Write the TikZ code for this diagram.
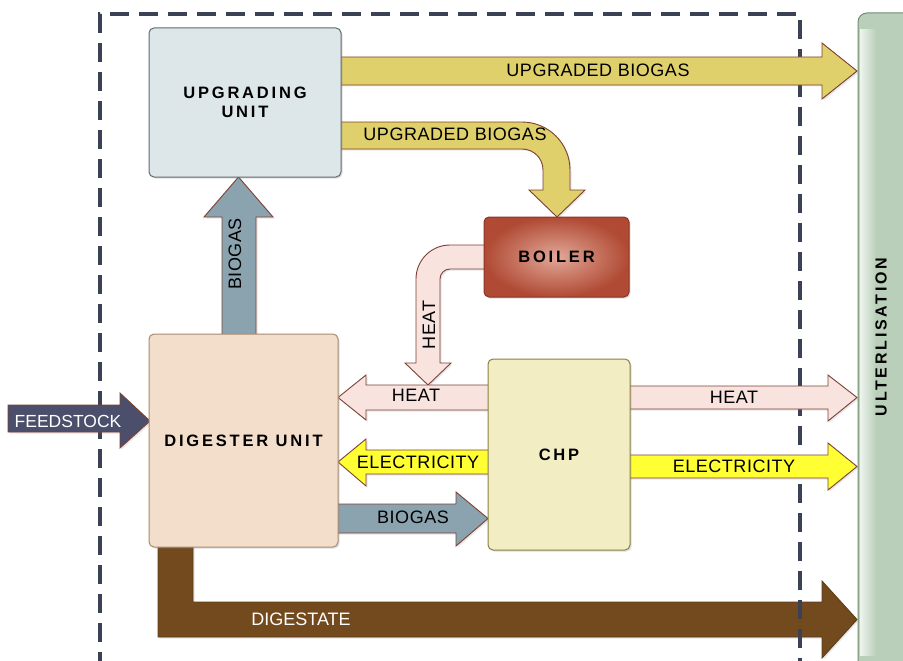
\documentclass[tikz,border=0pt]{standalone}
\usepackage{fontspec}
\setmainfont{Liberation Sans}
\newfontfamily\boxfont[LetterSpace=17]{Liberation Sans}
\newfontfamily\lblfont[LetterSpace=3]{Liberation Sans}
\usetikzlibrary{shadows}
\definecolor{dashc}{HTML}{3B4256}
\definecolor{upgfill}{HTML}{DDE6E8}
\definecolor{upgdraw}{HTML}{5F6B70}
\definecolor{boilin}{HTML}{E2A898}
\definecolor{boilout}{HTML}{B04A34}
\definecolor{boildraw}{HTML}{8A3525}
\definecolor{digfill}{HTML}{F3DECB}
\definecolor{digdraw}{HTML}{A88A6E}
\definecolor{chpfill}{HTML}{F3EDC3}
\definecolor{chpdraw}{HTML}{8C7F45}
\definecolor{utilL}{HTML}{EEF4EE}
\definecolor{utilR}{HTML}{B9CFB9}
\definecolor{utildraw}{HTML}{6E8F6E}
\definecolor{gasyel}{HTML}{DFD06B}
\definecolor{heatfill}{HTML}{F8E3DF}
\definecolor{elecfill}{HTML}{FFFF33}
\definecolor{biofill}{HTML}{8AA3AF}
\definecolor{feedfill}{HTML}{4B4F6B}
\definecolor{digest}{HTML}{734A1E}
\definecolor{arrowedge}{HTML}{7E4032}
\tikzset{
  box/.style={draw, line width=1pt, rounded corners=5pt,
    drop shadow={opacity=0.25,shadow xshift=1.5pt,shadow yshift=-1.5pt},
    inner sep=0pt, align=center,
    font=\boxfont\bfseries\fontsize{16.5}{19}\selectfont},
  blk/.style={draw=arrowedge, line width=0.9pt,
    drop shadow={opacity=0.2,shadow xshift=1.5pt,shadow yshift=-1.5pt}},
  lbl/.style={font=\lblfont\fontsize{18}{20}\selectfont, inner sep=0pt},
  wlbl/.style={font=\fontsize{17.5}{20}\selectfont, inner sep=0pt, text=white},
}
\begin{document}
\begin{tikzpicture}[x=1pt,y=-1pt]
\useasboundingbox (0,0) rectangle (903,661);
\clip (0,0) rectangle (903,661);

% digestate (behind dashed frame)
\path[blk, fill=digest, draw=digest!80!black] (158,540) -- (158,637) -- (822,637) -- (822,658) -- (857,619.5) -- (822,581) -- (822,602) -- (193,602) -- (193,540) -- cycle;
\node[wlbl, font=\fontsize{18}{20}\selectfont] (digl) at (301,619) {DIGESTATE};

% dashed system boundary
\draw[dashc, line width=3.2pt, dash pattern=on 19pt off 10pt] (100,700) -- (100,14) -- (800,14) -- (800,700);

% utilisation bar
\draw[draw=utildraw, line width=1pt, rounded corners=9pt, fill=utilR] (858,13) rectangle (930,675);
\fill[left color=utilL, right color=utilR, shading angle=90] (860,30) rectangle (876,655);
\node[rotate=90, font=\boxfont\bfseries\fontsize{16}{19}\selectfont, inner sep=0pt] (util) at (881,337) {ULTERLISATION};

% upgraded biogas to utilisation
\path[blk, fill=gasyel] (330,57) -- (822,57) -- (822,43) -- (857,71) -- (822,99) -- (822,85) -- (330,85) -- cycle;
\node[lbl] (ub1) at (598,70) {UPGRADED BIOGAS};

% upgraded biogas to boiler
\path[blk, fill=gasyel] (330,122) -- (522,122) arc[start angle=90,end angle=0,radius=48pt] -- (570,190) -- (585,190) -- (557,217) -- (529,190) -- (543,190) -- (543,170) arc[start angle=0,end angle=90,radius=21pt] -- (330,149) -- cycle;
\node[lbl] (ub2) at (455,134) {UPGRADED BIOGAS};

% heat from boiler
\path[blk, fill=heatfill] (495,245) -- (450,245) arc[start angle=90,end angle=180,radius=34pt] -- (416,363) -- (405,363) -- (428,385) -- (451,363) -- (440,363) -- (440,279) arc[start angle=180,end angle=90,radius=10pt] -- (495,269) -- cycle;
\node[lbl, rotate=90] (hb) at (429,325) {HEAT};

% CHP -> digester
\path[blk, fill=heatfill] (500,385) -- (366,385) -- (366,375) -- (338,397.5) -- (366,420) -- (366,410) -- (500,410) -- cycle;
\node[lbl] (h1) at (416,395) {HEAT};
\path[blk, fill=elecfill] (500,450) -- (366,450) -- (366,439) -- (338,462) -- (366,486) -- (366,474) -- (500,474) -- cycle;
\node[lbl] (e1) at (418,462) {ELECTRICITY};

% digester -> CHP
\path[blk, fill=biofill] (330,504) -- (456,504) -- (456,492) -- (488,518.5) -- (456,546) -- (456,533) -- (330,533) -- cycle;
\node[lbl] (b1) at (413,517) {BIOGAS};

% CHP -> utilisation
\path[blk, fill=heatfill] (620,386) -- (828,386) -- (828,375) -- (857,397.5) -- (828,421) -- (828,409) -- (620,409) -- cycle;
\node[lbl] (h2) at (734,397) {HEAT};
\path[blk, fill=elecfill] (620,455) -- (828,455) -- (828,443) -- (857,466.5) -- (828,490) -- (828,478) -- (620,478) -- cycle;
\node[lbl] (e2) at (734,466) {ELECTRICITY};

% digester -> upgrading
\path[blk, fill=biofill] (222,345) -- (222,217) -- (204,217) -- (238.5,177) -- (273,217) -- (256,217) -- (256,345) -- cycle;
\node[lbl, rotate=90] (b2) at (235,254) {BIOGAS};

% feedstock
\path[blk, fill=feedfill] (8,405) -- (120,405) -- (120,393) -- (150,421) -- (120,448) -- (120,432) -- (8,432) -- cycle;
\node[wlbl] (fl) at (68,421) {FEEDSTOCK};

% boxes
\node[box, fill=upgfill, draw=upgdraw, minimum width=192pt, minimum height=149pt] (upg) at (245,102.5) {UPGRADING\\UNIT};
\node[box, shading=radial, inner color=boilin, outer color=boilout, draw=boildraw, minimum width=145pt, minimum height=80pt] (boil) at (556.5,257) {BOILER};
\node[box, fill=digfill, draw=digdraw, minimum width=189pt, minimum height=213pt] (dig) at (243.5,440.5) {DIGESTER UNIT};
\node[box, fill=chpfill, draw=chpdraw, minimum width=142pt, minimum height=191pt] (chp) at (559,454.5) {CHP};
\end{tikzpicture}
\end{document}
